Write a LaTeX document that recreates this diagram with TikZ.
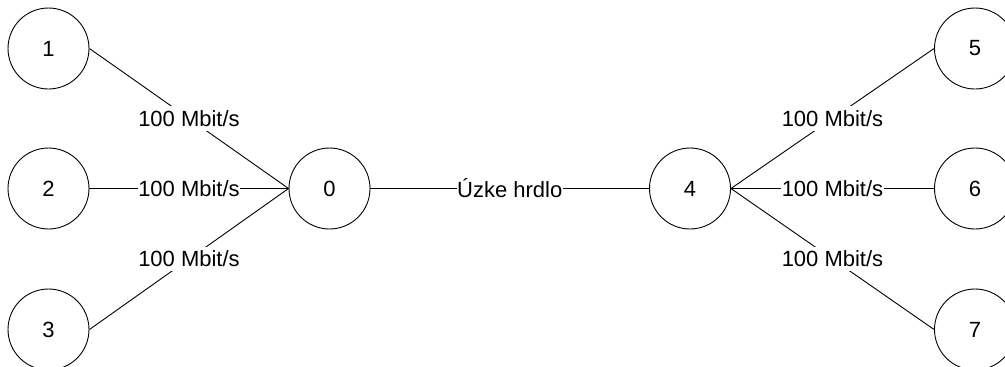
\documentclass[tikz,border=0pt]{standalone}
\usepackage{fontspec}
\setmainfont{Liberation Sans}
\begin{document}
\begin{tikzpicture}[x=1pt,y=-1pt,
  every node/.style={font=\fontsize{22}{26}\selectfont},
  host/.style={circle,draw,line width=0.9pt,minimum size=81pt,inner sep=0pt},
  link/.style={line width=0.9pt},
  rate/.style={fill=white,inner xsep=0.5pt,inner ysep=4pt}]
\useasboundingbox (0,0) rectangle (1005,367);
\clip (0,0) rectangle (1005,367);
\node[host] (n1) at (48.5,48.5) {1};
\node[host] (n2) at (48.5,188.5) {2};
\node[host] (n3) at (48.5,329.5) {3};
\node[host] (n0) at (329.5,188.5) {0};
\node[host] (n4) at (690,188.5) {4};
\node[host] (n5) at (975,48.5) {5};
\node[host] (n6) at (975,188.5) {6};
\node[host] (n7) at (975,329.5) {7};
\draw[link] (n1.east) -- node[rate]{100 Mbit/s} (n0.west);
\draw[link] (n2.east) -- node[rate]{100 Mbit/s} (n0.west);
\draw[link] (n3.east) -- node[rate]{100 Mbit/s} (n0.west);
\draw[link] (n0.east) -- node[rate]{Úzke hrdlo} (n4.west);
\draw[link] (n4.east) -- node[rate]{100 Mbit/s} (n5.west);
\draw[link] (n4.east) -- node[rate]{100 Mbit/s} (n6.west);
\draw[link] (n4.east) -- node[rate]{100 Mbit/s} (n7.west);
\end{tikzpicture}
\end{document}
